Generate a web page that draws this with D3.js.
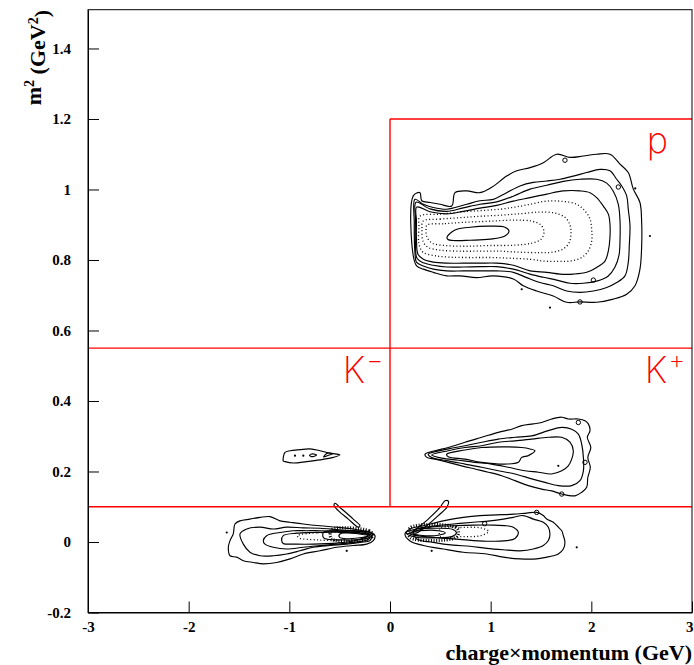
<!DOCTYPE html>
<html><head><meta charset="utf-8">
<script src="https://cdn.jsdelivr.net/npm/d3@7"></script>
<style>body{margin:0;background:#fff} svg{display:block}</style>
</head><body>
<svg id="c" width="694" height="665"></svg>
<script>
// ---------- axis data ----------
const xTicks = [-3,-2,-1,0,1,2,3];
const xTickLabels = ["-3","-2","-1","0","1","2","3"];
const yTicks = [-0.2,0,0.2,0.4,0.6,0.8,1,1.2,1.4];
const yTickLabels = ["-0.2","0","0.2","0.4","0.6","0.8","1","1.2","1.4"];
const xTitle = "charge\u00d7momentum (GeV)";

// ---------- selection cuts (data units) ----------
const cutSegments = [
  [[-3,0.55],[3,0.55]],
  [[-3,0.1],[3,0.1]],
  [[0,0.1],[0,1.2]],
  [[0,1.2],[3,1.2]]
];
const regionLabels = [
  {text:"p", sup:"", x:2.55, y:1.104},
  {text:"K", sup:"\u2212", x:-0.47, y:0.451},
  {text:"K", sup:"+", x:2.53, y:0.451}
];

// ---------- proton band contours ----------
const pL1 = [[0.231,0.982],[0.298,0.991],[0.315,0.968],[0.397,0.963],[0.497,0.958],[0.613,0.953],[0.646,0.991],[0.762,0.996],[0.894,0.991],[1.010,1.006],[1.159,1.038],[1.259,1.053],[1.391,1.062],[1.523,1.076],[1.656,1.100],[1.788,1.091],[1.920,1.095],[2.053,1.100],[2.185,1.100],[2.285,1.072],[2.367,1.048],[2.417,1.001],[2.483,0.963],[2.500,0.906],[2.500,0.840],[2.483,0.774],[2.434,0.727],[2.351,0.703],[2.218,0.689],[2.053,0.680],[1.887,0.681],[1.755,0.680],[1.622,0.698],[1.457,0.712],[1.324,0.727],[1.225,0.746],[1.026,0.755],[0.861,0.750],[0.695,0.755],[0.563,0.755],[0.430,0.765],[0.331,0.774],[0.265,0.783],[0.231,0.812]];
const pL2 = [[0.248,0.972],[0.331,0.958],[0.430,0.949],[0.563,0.944],[0.646,0.949],[0.762,0.958],[0.894,0.968],[1.026,0.972],[1.159,0.991],[1.291,1.010],[1.424,1.020],[1.557,1.024],[1.689,1.029],[1.821,1.038],[1.954,1.048],[2.086,1.057],[2.185,1.053],[2.252,1.029],[2.302,1.010],[2.351,0.982],[2.367,0.944],[2.384,0.897],[2.377,0.840],[2.367,0.793],[2.334,0.755],[2.252,0.736],[2.153,0.722],[2.020,0.712],[1.887,0.708],[1.755,0.712],[1.622,0.727],[1.490,0.736],[1.358,0.750],[1.225,0.765],[1.060,0.769],[0.894,0.769],[0.728,0.769],[0.563,0.769],[0.430,0.774],[0.331,0.783],[0.265,0.793],[0.248,0.821],[0.241,0.906]];
const pL3 = [[0.258,0.964],[0.397,0.945],[0.563,0.938],[0.728,0.948],[0.894,0.958],[1.060,0.965],[1.225,0.981],[1.391,1.001],[1.557,1.012],[1.722,1.023],[1.887,1.029],[2.053,1.029],[2.153,1.018],[2.218,0.995],[2.268,0.958],[2.285,0.910],[2.285,0.859],[2.275,0.814],[2.235,0.780],[2.166,0.754],[2.053,0.740],[1.920,0.734],[1.788,0.734],[1.656,0.743],[1.523,0.751],[1.391,0.760],[1.225,0.774],[1.060,0.781],[0.894,0.781],[0.728,0.780],[0.563,0.780],[0.430,0.785],[0.331,0.792],[0.268,0.805],[0.253,0.845],[0.253,0.916]];
const pL4 = [[0.265,0.950],[0.397,0.937],[0.563,0.931],[0.728,0.938],[0.894,0.947],[1.060,0.955],[1.225,0.967],[1.391,0.977],[1.557,0.987],[1.722,0.996],[1.887,0.996],[1.987,0.991],[2.053,0.977],[2.119,0.953],[2.169,0.930],[2.185,0.902],[2.185,0.864],[2.169,0.826],[2.136,0.797],[2.053,0.779],[1.954,0.765],[1.821,0.760],[1.689,0.760],[1.557,0.765],[1.391,0.769],[1.225,0.785],[1.060,0.791],[0.894,0.791],[0.728,0.791],[0.563,0.791],[0.430,0.794],[0.331,0.802],[0.278,0.816],[0.263,0.859],[0.263,0.910]];
const pD1 = [[0.298,0.924],[0.497,0.930],[0.695,0.936],[0.894,0.940],[1.093,0.944],[1.242,0.950],[1.391,0.958],[1.557,0.967],[1.722,0.966],[1.855,0.958],[1.937,0.939],[1.987,0.916],[2.004,0.883],[2.004,0.854],[1.970,0.826],[1.904,0.807],[1.788,0.797],[1.656,0.796],[1.523,0.797],[1.391,0.802],[1.192,0.805],[0.993,0.807],[0.795,0.807],[0.596,0.808],[0.447,0.812],[0.328,0.822],[0.288,0.845],[0.288,0.893]];
const pD2 = [[0.328,0.910],[0.497,0.916],[0.695,0.920],[0.894,0.924],[1.093,0.927],[1.291,0.931],[1.490,0.936],[1.639,0.933],[1.738,0.921],[1.788,0.899],[1.798,0.873],[1.778,0.848],[1.719,0.831],[1.609,0.822],[1.490,0.821],[1.291,0.822],[1.093,0.825],[0.894,0.825],[0.695,0.825],[0.497,0.828],[0.377,0.836],[0.328,0.853],[0.318,0.887]];
const pD3 = [[0.368,0.899],[0.546,0.903],[0.745,0.907],[0.993,0.910],[1.242,0.913],[1.411,0.910],[1.500,0.899],[1.530,0.879],[1.500,0.859],[1.411,0.848],[1.242,0.842],[0.993,0.841],[0.745,0.839],[0.546,0.841],[0.417,0.848],[0.368,0.865],[0.358,0.885]];
const pCore = [[0.566,0.865],[0.646,0.885],[0.795,0.893],[0.993,0.896],[1.142,0.893],[1.182,0.882],[1.142,0.868],[0.993,0.859],[0.795,0.856],[0.646,0.855],[0.576,0.858]];

// ---------- kaon contours ----------
const kpL1 = [[0.348,0.249],[0.447,0.259],[0.579,0.268],[0.745,0.283],[0.911,0.297],[1.076,0.311],[1.209,0.320],[1.308,0.330],[1.424,0.335],[1.507,0.339],[1.606,0.349],[1.706,0.354],[1.771,0.349],[1.871,0.349],[1.937,0.344],[1.970,0.335],[1.987,0.316],[1.960,0.297],[1.995,0.268],[1.965,0.240],[1.990,0.212],[1.965,0.183],[1.954,0.155],[1.904,0.141],[1.838,0.131],[1.706,0.136],[1.606,0.145],[1.507,0.150],[1.374,0.160],[1.242,0.174],[1.110,0.188],[0.977,0.198],[0.844,0.207],[0.712,0.216],[0.579,0.226],[0.447,0.235],[0.365,0.240]];
const kpL2 = [[0.380,0.249],[0.579,0.264],[0.745,0.273],[0.911,0.283],[1.076,0.292],[1.242,0.297],[1.408,0.301],[1.573,0.316],[1.706,0.325],[1.805,0.320],[1.871,0.306],[1.904,0.278],[1.921,0.240],[1.921,0.202],[1.887,0.174],[1.805,0.160],[1.672,0.160],[1.540,0.169],[1.408,0.179],[1.242,0.193],[1.076,0.202],[0.911,0.212],[0.745,0.221],[0.579,0.230],[0.414,0.240]];
const kpL3 = [[0.414,0.247],[0.579,0.259],[0.745,0.268],[0.911,0.273],[1.076,0.283],[1.242,0.287],[1.408,0.292],[1.573,0.297],[1.706,0.297],[1.788,0.283],[1.821,0.259],[1.805,0.235],[1.771,0.216],[1.706,0.202],[1.606,0.193],[1.474,0.198],[1.341,0.202],[1.175,0.212],[1.010,0.221],[0.844,0.226],[0.679,0.232],[0.514,0.238]];
const kpCore = [[0.563,0.249],[0.745,0.261],[0.911,0.268],[1.110,0.270],[1.308,0.268],[1.391,0.264],[1.440,0.259],[1.374,0.245],[1.308,0.240],[1.275,0.226],[1.142,0.221],[0.911,0.226],[0.745,0.235],[0.579,0.242]];
const kmL1 = [[-1.060,0.230],[-1.043,0.254],[-0.993,0.259],[-0.894,0.262],[-0.795,0.264],[-0.695,0.259],[-0.596,0.252],[-0.497,0.247],[-0.563,0.240],[-0.695,0.233],[-0.828,0.228],[-0.961,0.224],[-1.043,0.228]];
const kmCore1 = [[-0.80,0.246],[-0.77,0.250],[-0.73,0.247],[-0.77,0.242]];
const kmCore2 = [[-0.66,0.241],[-0.62,0.252],[-0.57,0.250],[-0.61,0.246]];

// ---------- pion contours ----------
const pimL1 = [[-1.606,-0.015],[-1.589,0.004],[-1.557,0.023],[-1.540,0.051],[-1.490,0.060],[-1.391,0.065],[-1.291,0.070],[-1.192,0.072],[-1.093,0.060],[-0.993,0.056],[-0.861,0.051],[-0.695,0.046],[-0.529,0.042],[-0.365,0.037],[-0.265,0.032],[-0.182,0.027],[-0.149,0.018],[-0.166,0.004],[-0.231,-0.006],[-0.365,-0.010],[-0.529,-0.015],[-0.695,-0.025],[-0.861,-0.034],[-0.993,-0.048],[-1.126,-0.058],[-1.259,-0.062],[-1.358,-0.058],[-1.457,-0.053],[-1.523,-0.043],[-1.589,-0.039]];
const pimL2 = [[-1.490,0.023],[-1.423,0.037],[-1.291,0.042],[-1.159,0.037],[-1.026,0.042],[-0.861,0.040],[-0.695,0.039],[-0.529,0.035],[-0.365,0.031],[-0.231,0.026],[-0.182,0.018],[-0.199,0.004],[-0.298,-0.001],[-0.430,-0.006],[-0.596,-0.010],[-0.762,-0.015],[-0.894,-0.025],[-1.026,-0.034],[-1.159,-0.039],[-1.291,-0.039],[-1.391,-0.029],[-1.457,-0.006]];
const pimL3 = [[-1.259,0.004],[-1.225,0.018],[-1.093,0.027],[-0.961,0.032],[-0.828,0.032],[-0.695,0.032],[-0.497,0.030],[-0.298,0.026],[-0.199,0.018],[-0.219,0.007],[-0.365,-0.001],[-0.529,-0.006],[-0.695,-0.010],[-0.861,-0.015],[-1.026,-0.020],[-1.159,-0.015],[-1.242,-0.006]];
const pimL4 = [[-1.076,0.004],[-1.060,0.018],[-0.927,0.025],[-0.762,0.027],[-0.529,0.028],[-0.365,0.025],[-0.219,0.017],[-0.365,0.003],[-0.529,-0.003],[-0.762,-0.006],[-0.927,-0.006],[-1.060,-0.004]];
const pimCore1 = [[-0.66,0.027],[-0.45,0.032],[-0.25,0.030],[-0.17,0.020],[-0.25,0.009],[-0.45,0.006],[-0.66,0.012]];
const pimCore2 = [[-0.50,0.022],[-0.30,0.025],[-0.20,0.019],[-0.30,0.012],[-0.50,0.013]];
const pimDotted = [[-0.92,0.018],[-0.72,0.026],[-0.50,0.028],[-0.30,0.027],[-0.22,0.019],[-0.30,0.008],[-0.50,0.004],[-0.72,0.006],[-0.90,0.011]];
const pimComb = [[-0.58,0.034],[-0.21,0.032],[-0.17,0.020],[-0.21,0.008],[-0.58,0.009]];
const pimTail = [[-0.546,0.110],[-0.497,0.098],[-0.365,0.065],[-0.298,0.046],[-0.315,0.042],[-0.414,0.065],[-0.514,0.089],[-0.556,0.104]];

const pipL1 = [[0.149,0.023],[0.199,0.037],[0.331,0.046],[0.529,0.060],[0.728,0.070],[0.894,0.075],[1.060,0.077],[1.225,0.079],[1.358,0.082],[1.457,0.084],[1.523,0.075],[1.557,0.065],[1.622,0.056],[1.672,0.042],[1.706,0.032],[1.722,0.018],[1.738,-0.001],[1.722,-0.020],[1.672,-0.034],[1.622,-0.039],[1.557,-0.043],[1.457,-0.048],[1.291,-0.048],[1.126,-0.043],[0.961,-0.034],[0.728,-0.029],[0.529,-0.020],[0.331,-0.010],[0.199,0.003]];
const pipL2 = [[0.231,0.032],[0.430,0.045],[0.629,0.051],[0.828,0.056],[0.993,0.060],[1.126,0.065],[1.225,0.070],[1.324,0.075],[1.424,0.065],[1.523,0.056],[1.573,0.042],[1.589,0.023],[1.573,0.004],[1.523,-0.010],[1.424,-0.020],[1.291,-0.025],[1.126,-0.022],[0.961,-0.018],[0.795,-0.012],[0.629,-0.009],[0.430,-0.001],[0.265,0.009]];
const pipL3 = [[0.199,0.023],[0.397,0.042],[0.629,0.046],[0.828,0.048],[1.026,0.048],[1.159,0.046],[1.225,0.042],[1.275,0.027],[1.242,0.010],[1.159,0.004],[0.993,0.002],[0.828,0.004],[0.629,0.009],[0.430,0.013]];
const pipCore1 = [[0.16,0.026],[0.25,0.036],[0.45,0.039],[0.62,0.036],[0.66,0.026],[0.62,0.016],[0.45,0.012],[0.25,0.014]];
const pipCore2 = [[0.19,0.026],[0.30,0.032],[0.48,0.032],[0.55,0.026],[0.48,0.019],[0.30,0.019]];
const pipDotted = [[0.50,0.038],[0.70,0.041],[0.90,0.040],[0.98,0.030],[0.90,0.018],[0.70,0.015],[0.50,0.016]];
const pipComb = [[0.20,0.040],[0.65,0.042],[0.68,0.027],[0.65,0.012],[0.20,0.013]];
const pipTail = [[0.231,0.027],[0.380,0.065],[0.497,0.098],[0.546,0.117],[0.579,0.116],[0.566,0.099],[0.480,0.075],[0.365,0.046],[0.265,0.026]];

// isolated bins
const isolatedDots = [[-1.622,0.027],[-0.430,-0.025],[1.855,-0.015],[0.414,-0.025],[2.582,0.868],[1.589,0.665],[1.672,0.216],[1.308,0.717],[-0.944,0.245],[-0.861,0.245],[2.436,1.003]];
const smallLoops = [[1.871,0.339],[1.937,0.226],[1.706,0.136],[1.738,1.083],[2.268,1.007],[2.020,0.743],[1.887,0.681],[1.457,0.084],[0.940,0.052]];

const solidContours = [pL1,pL2,pL3,pL4,pCore,kpL1,kpL2,kpL3,kpCore,kmL1,kmCore1,kmCore2,
  pimL1,pimL2,pimL3,pimL4,pimCore1,pimCore2,pimTail,pipL1,pipL2,pipL3,pipCore1,pipCore2,pipTail];
const dottedContours = [pD1,pD2,pD3,pimDotted,pipDotted];
const combContours = [pimComb,pipComb];

// ---------- drawing ----------
const L=88,R=692,T=9.7,B=612.5;
const x = d3.scaleLinear().domain([-3,3]).range([L,R]);
const y = d3.scaleLinear().domain([-0.2,1.51]).range([B,T]);
const svg = d3.select('#c');
const serif = "'Liberation Serif','Times New Roman',Times,serif";

svg.append('defs').append('clipPath').attr('id','clip')
  .append('rect').attr('x',L).attr('y',T).attr('width',R-L).attr('height',B-T);

const line = d3.line().x(d=>x(d[0])).y(d=>y(d[1])).curve(d3.curveCatmullRomClosed.alpha(0.5));
const seg = d3.line().x(d=>x(d[0])).y(d=>y(d[1]));

const g = svg.append('g').attr('clip-path','url(#clip)');

g.selectAll('path.solid').data(solidContours).join('path').attr('class','solid')
  .attr('d',line).attr('fill','none').attr('stroke','#000').attr('stroke-width',1.15);
g.selectAll('path.dot').data(dottedContours).join('path').attr('class','dot')
  .attr('d',line).attr('fill','none').attr('stroke','#000').attr('stroke-width',1.3)
  .attr('stroke-dasharray','1,2.4');
g.selectAll('path.comb').data(combContours).join('path').attr('class','comb')
  .attr('d',line).attr('fill','none').attr('stroke','#000').attr('stroke-width',3.2)
  .attr('stroke-dasharray','1,1.6');
g.selectAll('circle.dotp').data(isolatedDots).join('circle').attr('class','dotp')
  .attr('cx',d=>x(d[0])).attr('cy',d=>y(d[1])).attr('r',1.1).attr('fill','#000');
g.selectAll('circle.loop').data(smallLoops).join('circle').attr('class','loop')
  .attr('cx',d=>x(d[0])).attr('cy',d=>y(d[1])).attr('r',2.2).attr('fill','none')
  .attr('stroke','#000').attr('stroke-width',1);

// red cuts
svg.append('g').selectAll('path').data(cutSegments).join('path')
  .attr('d',seg).attr('stroke','#ff0000').attr('stroke-width',1.4).attr('fill','none');

// region labels
const lab = svg.append('g').selectAll('text').data(regionLabels).join('text')
  .attr('x',d=>x(d.x)).attr('y',d=>y(d.y))
  .attr('fill','#ff0000').attr('font-family',"Inter,'DejaVu Sans',sans-serif")
  .attr('font-weight',200).attr('font-size',36);
lab.append('tspan').text(d=>d.text);
lab.append('tspan').attr('dy','-0.55em').attr('dx','0.05em').attr('font-size',26).text(d=>d.sup);

// frame
svg.append('rect').attr('x',L).attr('y',T).attr('width',R-L).attr('height',B-T)
  .attr('fill','none').attr('stroke','#000').attr('stroke-width',1);

// axes
const yMinor = d3.range(-4,31).map(i=>+(i*0.05).toFixed(2)).filter(v=>v>=-0.2&&v<=1.5);
const xMinor = d3.range(-15,16).map(i=>+(i*0.2).toFixed(2));
const axL = svg.append('g').attr('transform',`translate(${L},0)`);
axL.call(d3.axisLeft(y).tickValues(yMinor).tickSize(-6).tickSizeOuter(0).tickFormat(''));
axL.call(d3.axisLeft(y).tickValues(yTicks).tickSize(-11).tickSizeOuter(0).tickPadding(17)
  .tickFormat((d,i)=>yTickLabels[i]));
const axB = svg.append('g').attr('transform',`translate(0,${B})`);
axB.call(d3.axisBottom(x).tickValues(xMinor).tickSize(-6).tickSizeOuter(0).tickFormat(''));
axB.call(d3.axisBottom(x).tickValues(xTicks).tickSize(-11).tickSizeOuter(0).tickPadding(9)
  .tickFormat((d,i)=>xTickLabels[i]));
svg.selectAll('.tick text').attr('font-family',serif).attr('font-weight','bold').attr('font-size',15).attr('fill','#000');
svg.selectAll('.domain, .tick line').attr('stroke','#000').attr('stroke-width',1);
axB.selectAll('.tick text').filter(d=>d===3).attr('text-anchor','end').attr('dx','1');

// titles
svg.append('text').attr('x',R).attr('y',660).attr('text-anchor','end')
  .attr('font-family',serif).attr('font-weight','bold').attr('font-size',22).text(xTitle);
const yt = svg.append('text').attr('transform','translate(41,10) rotate(-90)').attr('text-anchor','end')
  .attr('font-family',serif).attr('font-weight','bold').attr('font-size',22);
yt.append('tspan').text('m');
yt.append('tspan').attr('dy','-0.5em').attr('font-size',14).text('2');
yt.append('tspan').attr('dy','0.5em').text(' (GeV');
yt.append('tspan').attr('dy','-0.5em').attr('font-size',14).text('2');
yt.append('tspan').attr('dy','0.5em').text(')');
</script>
</body></html>
